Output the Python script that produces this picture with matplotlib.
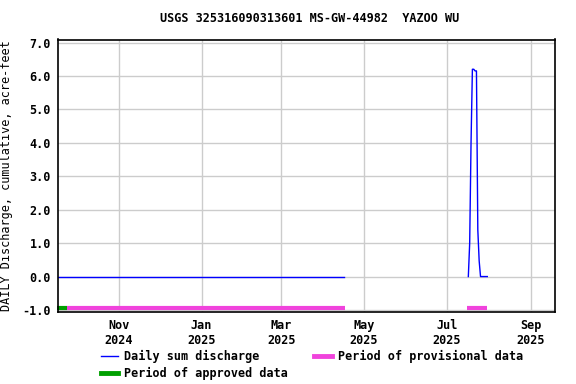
import datetime as dt
import matplotlib
matplotlib.use("Agg")
import matplotlib.pyplot as plt
from matplotlib.lines import Line2D

# Colors used in the plot
BLUE = '#0000ff'
PINK = '#f043dc'
GREEN = '#00a000'
GRID = '#cccccc'

TITLE = "USGS 325316090313601 MS-GW-44982  YAZOO WU"
Y_LABEL = "DAILY Discharge, cumulative, acre-feet"

# Discharge series (two pieces with a gap in between)
flat_dates = [dt.date(2024, 9, 17), dt.date(2025, 4, 16)]
flat_values = [0.0, 0.0]

peak_dates = [dt.date(2025, 7, d) for d in range(17, 32)]
peak_values = [0.0, 1.0, 4.0, 6.2, 6.2, 6.15, 6.15, 1.4, 0.47,
               0.0, 0.0, 0.0, 0.0, 0.0, 0.0]

# Data approval periods
approved_periods = [(dt.date(2024, 9, 16), dt.date(2024, 9, 24))]
provisional_periods = [(dt.date(2024, 9, 24), dt.date(2025, 4, 17)),
                       (dt.date(2025, 7, 16), dt.date(2025, 7, 31))]

x_ticks = [dt.date(2024, 11, 1), dt.date(2025, 1, 1), dt.date(2025, 3, 1),
           dt.date(2025, 5, 1), dt.date(2025, 7, 1), dt.date(2025, 9, 1)]
x_tick_labels = ["Nov\n2024", "Jan\n2025", "Mar\n2025",
                 "May\n2025", "Jul\n2025", "Sep\n2025"]
y_ticks = [-1, 0, 1, 2, 3, 4, 5, 6, 7]

plt.rcParams['font.family'] = 'DejaVu Sans Mono'
plt.rcParams['font.weight'] = 'bold'
font_size = 8.5

fig = plt.figure(figsize=(5.76, 3.84), dpi=100)
ax = fig.add_axes([58 / 576, 1 - 312 / 384, 497 / 576, 272.5 / 384])

ax.plot(flat_dates, flat_values, color=BLUE, linewidth=1.0)
ax.plot(peak_dates, peak_values, color=BLUE, linewidth=1.0)

for start, end in approved_periods:
    ax.plot([start, end], [-0.95, -0.95], color=GREEN, linewidth=3,
            solid_capstyle='butt', clip_on=False)
for start, end in provisional_periods:
    ax.plot([start, end], [-0.95, -0.95], color=PINK, linewidth=3,
            solid_capstyle='butt')

ax.set_xlim(dt.date(2024, 9, 17), dt.date(2025, 9, 19))
ax.set_ylim(-1.06, 7.09)
ax.set_xticks(x_ticks)
ax.set_xticklabels(x_tick_labels, fontsize=font_size)
ax.set_yticks(y_ticks)
ax.set_yticklabels([f"{v:.1f}" for v in y_ticks], fontsize=font_size)
ax.tick_params(length=0, pad=5)
ax.grid(True, color=GRID, linewidth=1)
ax.set_axisbelow(True)
for spine in ax.spines.values():
    spine.set_linewidth(1.2)

ax.set_ylabel(Y_LABEL, fontsize=font_size, labelpad=7)
fig.text(310 / 576, 1 - 19 / 384, TITLE, fontsize=font_size,
         ha='center', va='center')

handles = [Line2D([], [], color=BLUE, linewidth=1.0),
           Line2D([], [], color=GREEN, linewidth=3.5),
           Line2D([], [], color=PINK, linewidth=3.5)]
labels = ["Daily sum discharge", "Period of approved data",
          "Period of provisional data"]
fig.legend(handles, labels, ncol=2, loc='upper left',
           bbox_to_anchor=(96 / 576, 1 - 345 / 384), frameon=False,
           fontsize=font_size, handlelength=1.5, handletextpad=0.5,
           columnspacing=2.2, labelspacing=0.35, borderaxespad=0)

fig.savefig("out.png", dpi=100)
